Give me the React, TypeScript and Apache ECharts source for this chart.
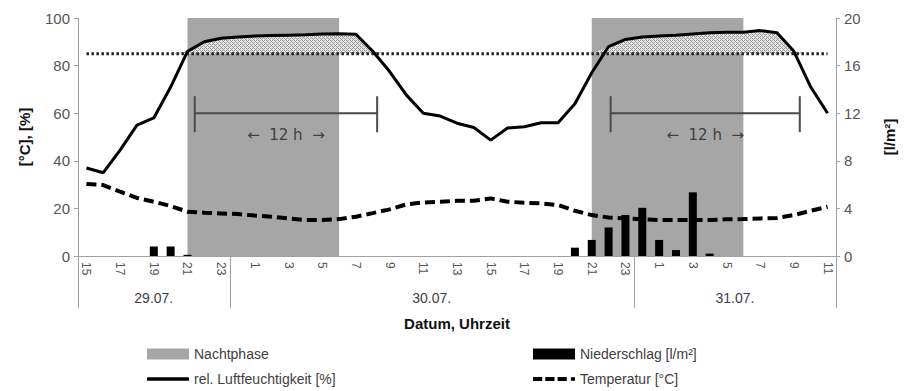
import React, { useEffect, useRef } from 'react';
import * as echarts from 'echarts';

// hourly categories from 29.07. 15:00 to 31.07. 11:00
const hours = [
  '15', '16', '17', '18', '19', '20', '21', '22', '23',
  '0', '1', '2', '3', '4', '5', '6', '7', '8', '9', '10', '11', '12', '13', '14', '15', '16', '17', '18', '19', '20', '21', '22', '23',
  '0', '1', '2', '3', '4', '5', '6', '7', '8', '9', '10', '11',
];
const dayLabels = ['29.07.', '30.07.', '31.07.'];

const humidity = [
  37, 35, 44.5, 55, 58, 71, 86, 90, 91.5,
  92, 92.4, 92.6, 92.8, 93, 93.3, 93.4, 93.2, 86, 77.5, 67.6, 60, 58.8, 55.8, 54, 48.7, 53.8, 54.3, 56, 56, 64, 77, 88, 91,
  92, 92.4, 92.8, 93.3, 93.8, 94, 94, 94.7, 93.8, 86, 71, 60,
];
const temperature = [
  30.3, 29.8, 27, 24.4, 22.8, 21, 18.6, 18.2, 17.9,
  17.6, 17, 16.5, 15.8, 15.1, 15.1, 15.5, 16.5, 18, 19.6, 21.7, 22.5, 22.8, 23.2, 23.2, 24.2, 22.8, 22.4, 22.1, 21.4, 19, 17.2, 16.2, 15.8,
  15.4, 15.1, 15.1, 15.1, 15.1, 15.4, 15.5, 15.8, 16, 17.2, 19, 20.7,
];
const precipitation = [
  0, 0, 0, 0, 0.8, 0.8, 0.1, 0, 0,
  0, 0, 0, 0, 0, 0, 0, 0, 0, 0, 0, 0, 0, 0, 0, 0, 0, 0, 0, 0, 0.7, 1.35, 2.4, 3.45,
  4.05, 1.35, 0.5, 5.35, 0.2, 0, 0, 0, 0, 0, 0, 0,
];
const threshold = 85;
// night phases as category index ranges
const nightPhases = [[6, 15], [30, 39]];
// "12 h" brackets, in category index units, at humidity level
const spanMarks = [[6.43, 17.26], [31.12, 42.35]];
const spanLevel = 60;

const FONT = '"Liberation Sans", Arial, sans-serif';

const cats = hours.map((h, i) => `${i}|${h}`);

const ICON_SOLID = 'path://M0,0H42V3.5H0Z';
const ICON_DASH = 'path://M0,0H9V4H0Z M12,0H21V4H12Z M24,0H33V4H24Z M37,0.3H41V3.7H37Z';

function makePattern() {
  const c = document.createElement('canvas');
  c.width = 4;
  c.height = 4;
  const ctx = c.getContext('2d')!;
  ctx.fillStyle = '#e4e4e4';
  ctx.fillRect(0, 0, 4, 4);
  ctx.fillStyle = '#9c9c9c';
  for (let y = 0; y < 4; y++) {
    for (let x = 0; x < 4; x++) {
      if ((x + y) % 4 === 0 || (x - y + 4) % 4 === 2) ctx.fillRect(x, y, 1, 1);
    }
  }
  return c;
}

function legendAt(left: number, top: number, item: any) {
  return {
    left, top, orient: 'horizontal', itemWidth: 42, itemHeight: 11,
    selectedMode: false,
    textStyle: { fontSize: 14, color: '#404040', fontFamily: FONT },
    data: [item],
  };
}

export default function App() {
  const ref = useRef<HTMLDivElement>(null);
  useEffect(() => {
    if (!ref.current) return;
    const chart = echarts.init(ref.current, undefined, { renderer: 'svg' });
    const pattern = makePattern();
    const option: any = {
      animation: false,
      textStyle: { fontFamily: FONT },
      grid: { left: 78, right: 67, top: 18, bottom: 135 },
      legend: [
        legendAt(142, 342, { name: 'Nachtphase', icon: 'rect' }),
        legendAt(142, 367, { name: 'rel. Luftfeuchtigkeit [%]', icon: ICON_SOLID }),
        legendAt(528, 342, { name: 'Niederschlag [l/m²]', icon: 'rect' }),
        legendAt(528, 367, { name: 'Temperatur [°C]', icon: ICON_DASH }),
      ],
      xAxis: {
        type: 'category',
        data: cats,
        boundaryGap: true,
        axisLine: { lineStyle: { color: '#a0a0a0' } },
        axisTick: { alignWithLabel: true, interval: 0, length: 4, lineStyle: { color: '#a0a0a0' } },
        axisLabel: {
          interval: (_i: number, v: string) => Number(v.split('|')[1]) % 2 === 1,
          formatter: (v: string) => v.split('|')[1],
          rotate: -90,
          fontSize: 12,
          color: '#555',
          margin: 6,
          fontFamily: FONT,
        },
        name: 'Datum, Uhrzeit',
        nameLocation: 'middle',
        nameGap: 60,
        nameTextStyle: { fontWeight: 'bold', fontSize: 15, color: '#111', fontFamily: FONT },
      },
      yAxis: [
        {
          type: 'value', min: 0, max: 100, interval: 20,
          axisLine: { show: true, lineStyle: { color: '#a0a0a0' } },
          axisTick: { show: true, length: 4, lineStyle: { color: '#a0a0a0' } },
          splitLine: { show: false },
          axisLabel: { fontSize: 15, color: '#555', margin: 8, fontFamily: FONT },
          name: '[°C], [%]', nameLocation: 'middle', nameGap: 46, nameRotate: 90,
          nameTextStyle: { fontWeight: 'bold', fontSize: 15, color: '#111', fontFamily: FONT },
        },
        {
          type: 'value', min: 0, max: 20, interval: 4, position: 'right',
          axisLine: { show: true, lineStyle: { color: '#a0a0a0' } },
          axisTick: { show: true, length: 4, lineStyle: { color: '#a0a0a0' } },
          splitLine: { show: false },
          axisLabel: { fontSize: 15, color: '#555', margin: 8, fontFamily: FONT },
          name: '[l/m²]', nameLocation: 'middle', nameGap: 46, nameRotate: 90,
          nameTextStyle: { fontWeight: 'bold', fontSize: 15, color: '#111', fontFamily: FONT },
        },
      ],
      series: [
        {
          name: 'Nachtphase', type: 'line', data: [], symbol: 'none', z: 1,
          color: '#a6a6a6',
          itemStyle: { color: '#a6a6a6' },
          lineStyle: { color: '#a6a6a6' },
          markArea: {
            silent: true,
            itemStyle: { color: '#a6a6a6', opacity: 1 },
            data: nightPhases.map(([a, b]) => [{ xAxis: a }, { xAxis: b }]),
          },
        },
        {
          name: 'hatchBase', type: 'line', stack: 'hatch', data: hours.map(() => threshold),
          symbol: 'none', lineStyle: { opacity: 0 }, silent: true, z: 2,
        },
        {
          name: 'hatch', type: 'line', stack: 'hatch',
          data: humidity.map((v) => Math.max(0, v - threshold)),
          symbol: 'none', lineStyle: { opacity: 0 }, silent: true, z: 2,
          areaStyle: { color: { image: pattern, repeat: 'repeat' }, opacity: 1 },
        },
        {
          name: 'threshold', type: 'line', data: hours.map(() => threshold), symbol: 'none', z: 3,
          lineStyle: { color: '#222', width: 3, type: [2.5, 2.5] },
        },
        {
          name: 'Niederschlag [l/m²]', type: 'bar', yAxisIndex: 1, data: precipitation,
          barWidth: 8, itemStyle: { color: '#000' }, color: '#000', z: 4,
        },
        {
          name: 'rel. Luftfeuchtigkeit [%]', type: 'line', data: humidity, symbol: 'none', z: 5,
          color: '#000', itemStyle: { color: '#000' },
          lineStyle: { color: '#000', width: 3 },
        },
        {
          name: 'Temperatur [°C]', type: 'line', data: temperature, symbol: 'none', z: 5,
          color: '#000', itemStyle: { color: '#000' },
          lineStyle: { color: '#000', width: 4, type: [10, 5] },
        },
      ],
    };
    chart.setOption(option);

    const x0 = chart.convertToPixel({ xAxisIndex: 0 }, 0) as number;
    const x1 = chart.convertToPixel({ xAxisIndex: 0 }, 1) as number;
    const step = x1 - x0;
    const xAt = (idx: number) => x0 + idx * step;
    const yBase = chart.convertToPixel({ yAxisIndex: 0 }, 0) as number;

    // day boundaries
    const bounds: number[] = [-0.5];
    hours.forEach((h, i) => { if (h === '0') bounds.push(i - 0.5); });
    bounds.push(hours.length - 0.5);

    const graphics: any[] = [];
    bounds.forEach((b) => {
      const x = Math.round(xAt(b)) + 0.5;
      graphics.push({
        type: 'line', silent: true, z: 100,
        shape: { x1: x, y1: yBase, x2: x, y2: yBase + 52 },
        style: { stroke: '#a0a0a0', lineWidth: 1 },
      });
    });
    dayLabels.forEach((d, k) => {
      const cx = (xAt(bounds[k]) + xAt(bounds[k + 1])) / 2;
      graphics.push({
        type: 'text', silent: true, z: 100, x: cx, y: yBase + 42,
        style: { text: d, fill: '#404040', font: `14px ${FONT}`, align: 'center', verticalAlign: 'middle' },
      });
    });
    const ySpan = chart.convertToPixel({ yAxisIndex: 0 }, spanLevel) as number;
    spanMarks.forEach(([a, b]) => {
      const xa = xAt(a);
      const xb = xAt(b);
      const st = { stroke: '#4a4a4a', lineWidth: 2 };
      graphics.push({ type: 'line', silent: true, z: 100, shape: { x1: xa, y1: ySpan, x2: xb, y2: ySpan }, style: st });
      graphics.push({ type: 'line', silent: true, z: 100, shape: { x1: xa, y1: ySpan - 17, x2: xa, y2: ySpan + 19 }, style: st });
      graphics.push({ type: 'line', silent: true, z: 100, shape: { x1: xb, y1: ySpan - 17, x2: xb, y2: ySpan + 19 }, style: st });
      graphics.push({
        type: 'text', silent: true, z: 100, x: (xa + xb) / 2, y: ySpan + 22,
        style: { text: '←  12 h  →', fill: '#404040', font: `15px "DejaVu Sans", ${FONT}`, align: 'center', verticalAlign: 'middle' },
      });
    });
    chart.setOption({ graphic: graphics });

    return () => chart.dispose();
  }, []);
  return <div ref={ref} style={{ width: 905, height: 391, position: 'absolute', left: 0, top: 0 }} />;
}
